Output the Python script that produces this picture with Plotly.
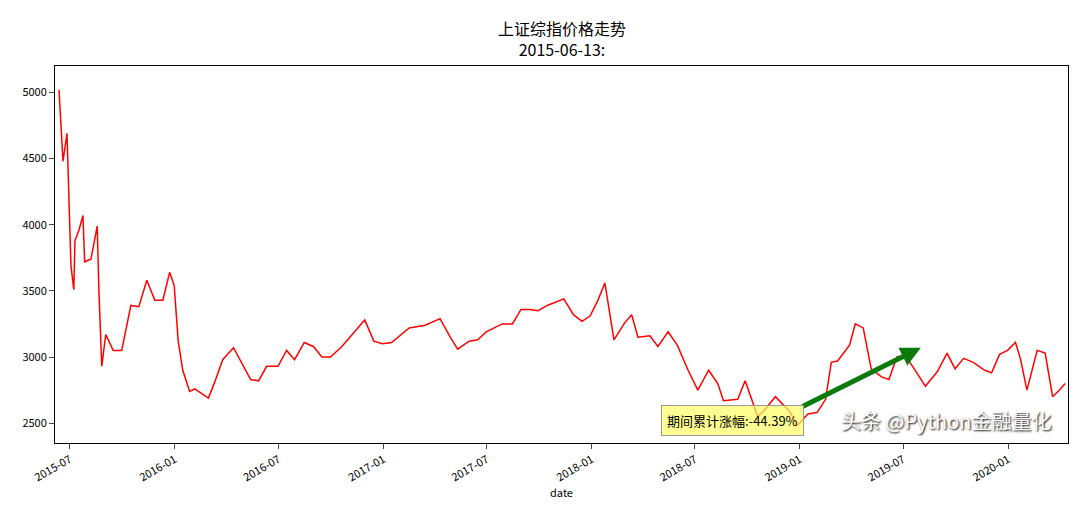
import plotly.graph_objects as go

dates = [
    "2015-06-12", "2015-06-19", "2015-06-26", "2015-07-03", "2015-07-08", "2015-07-10", "2015-07-17",
    "2015-07-24", "2015-07-27", "2015-08-07", "2015-08-18", "2015-08-21", "2015-08-26", "2015-09-02",
    "2015-09-15", "2015-09-30", "2015-10-16", "2015-10-30", "2015-11-13", "2015-11-27", "2015-12-11",
    "2015-12-23", "2015-12-31", "2016-01-07", "2016-01-15", "2016-01-27", "2016-02-05", "2016-02-29",
    "2016-03-11", "2016-03-25", "2016-04-13", "2016-04-29", "2016-05-13", "2016-05-27", "2016-06-10",
    "2016-06-30", "2016-07-15", "2016-07-29", "2016-08-15", "2016-08-31", "2016-09-15", "2016-09-30",
    "2016-10-20", "2016-11-15", "2016-11-29", "2016-12-15", "2016-12-30", "2017-01-15", "2017-02-15",
    "2017-03-15", "2017-04-10", "2017-04-28", "2017-05-11", "2017-05-31", "2017-06-15", "2017-06-30",
    "2017-07-15", "2017-07-28", "2017-08-15", "2017-08-30", "2017-09-15", "2017-09-29", "2017-10-15",
    "2017-11-13", "2017-11-30", "2017-12-15", "2017-12-29", "2018-01-12", "2018-01-24", "2018-02-09",
    "2018-02-28", "2018-03-12", "2018-03-23", "2018-04-13", "2018-04-27", "2018-05-15", "2018-05-31",
    "2018-06-19", "2018-07-06", "2018-07-25", "2018-08-10", "2018-08-20", "2018-09-14", "2018-09-27",
    "2018-10-19", "2018-10-31", "2018-11-19", "2018-12-14", "2018-12-27", "2019-01-15", "2019-01-31",
    "2019-02-15", "2019-02-25", "2019-03-08", "2019-03-29", "2019-04-08", "2019-04-22", "2019-05-06",
    "2019-05-24", "2019-06-06", "2019-06-20", "2019-07-05", "2019-07-19", "2019-08-09", "2019-08-30",
    "2019-09-16", "2019-09-30", "2019-10-15", "2019-11-01", "2019-11-21", "2019-12-03", "2019-12-17",
    "2019-12-31", "2020-01-14", "2020-01-23", "2020-02-03", "2020-02-21", "2020-03-06", "2020-03-19",
    "2020-03-31", "2020-04-10",
]
close = [
    5020, 4480, 4690, 3690, 3510, 3880, 3960,
    4070, 3720, 3740, 3990, 3500, 2930, 3170,
    3050, 3050, 3390, 3380, 3580, 3430, 3430,
    3640, 3540, 3120, 2900, 2740, 2760, 2690,
    2810, 2980, 3070, 2940, 2830, 2820, 2930,
    2930, 3050, 2980, 3110, 3080, 3000, 3000,
    3080, 3210, 3280, 3120, 3100, 3110, 3220,
    3240, 3290, 3150, 3060, 3120, 3130, 3190,
    3220, 3250, 3250, 3360, 3360, 3350, 3390,
    3440, 3320, 3270, 3310, 3430, 3560, 3130,
    3260, 3320, 3150, 3160, 3080, 3190, 3090,
    2900, 2750, 2900, 2800, 2670, 2680, 2820,
    2550, 2600, 2700, 2590, 2480, 2570, 2580,
    2680, 2960, 2970, 3090, 3250, 3220, 2910,
    2850, 2830, 3000, 3010, 2920, 2780, 2890,
    3030, 2910, 2990, 2960, 2900, 2880, 3020,
    3050, 3110, 2980, 2750, 3050, 3030, 2700,
    2750, 2800,
]
tick_vals = ["2015-07-01", "2016-01-01", "2016-07-01", "2017-01-01", "2017-07-01",
             "2018-01-01", "2018-07-01", "2019-01-01", "2019-07-01", "2020-01-01"]
tick_text = ["2015-07", "2016-01", "2016-07", "2017-01", "2017-07",
             "2018-01", "2018-07", "2019-01", "2019-07", "2020-01"]

fig = go.Figure(go.Scatter(x=dates, y=close, mode="lines", line=dict(color="red", width=1.5)))

fig.add_annotation(x="2019-08-01", y=3070, ax="2019-01-03", ay=2620, xref="x", yref="y",
                   axref="x", ayref="y", text="", showarrow=True, arrowhead=2,
                   arrowsize=0.8, arrowwidth=5, arrowcolor="#0a7a0a")
fig.add_annotation(x="2018-09-05", y=2520, text="期间累计涨幅:-44.39%", showarrow=False,
                   bgcolor="rgba(255,255,100,0.7)", bordercolor="#999", borderwidth=1,
                   borderpad=5, font=dict(size=13, color="black"))
fig.add_annotation(x=0.5, y=1.0, xref="paper", yref="paper", yanchor="bottom",
                   text="上证综指价格走势<br>2015-06-13:", showarrow=False,
                   font=dict(size=16), yshift=3)
fig.add_annotation(x=0.985, y=0.015, xref="paper", yref="paper", xanchor="right", yanchor="bottom",
                   text="头条 @Python金融量化", showarrow=False,
                   font=dict(size=20, color="white", shadow="1px 1px 2px black"))

fig.update_layout(
    width=1080, height=506,
    paper_bgcolor="white", plot_bgcolor="white",
    margin=dict(l=47, r=20, t=58, b=71),
    font=dict(family="Noto Sans CJK SC, DejaVu Sans", size=11, color="black"),
    showlegend=False,
    xaxis=dict(range=["2015-06-05", "2020-04-15"], tickvals=tick_vals, ticktext=tick_text,
               tickangle=-30, showgrid=False, showline=True, mirror=True, linecolor="black",
               ticks="outside", title=dict(text="date", standoff=2, font=dict(size=11))),
    yaxis=dict(range=[2350, 5200], tickvals=[2500, 3000, 3500, 4000, 4500, 5000],
               showgrid=False, showline=True, mirror=True, linecolor="black", ticks="outside",
               zeroline=False),
)

fig.write_html("out.html")
